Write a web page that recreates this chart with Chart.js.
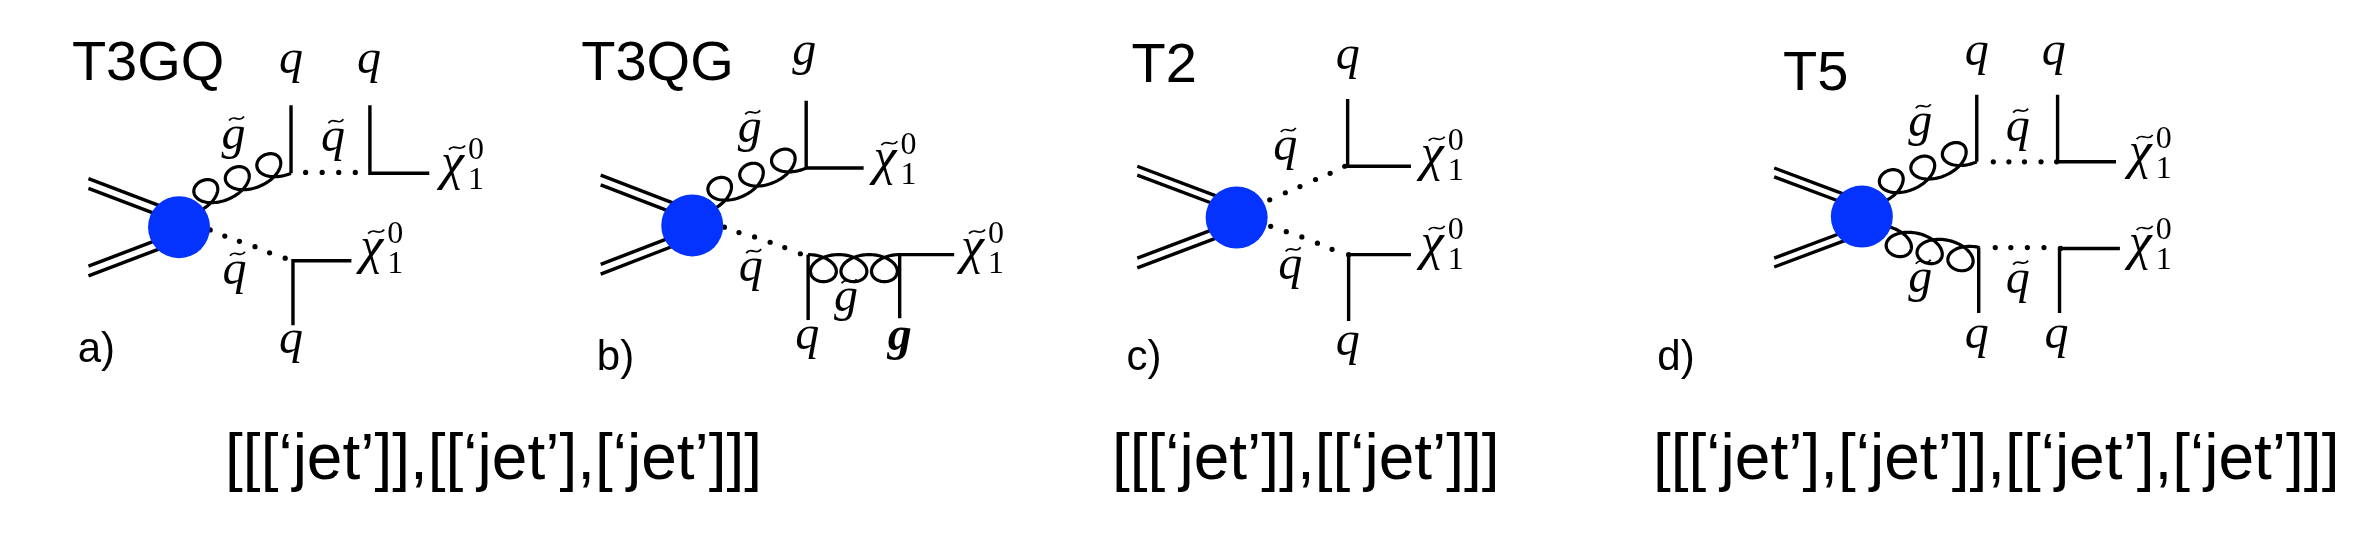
<!DOCTYPE html>
<html lang="en">
<head>
<meta charset="UTF-8">
<title>SUSY simplified-model topologies</title>
<script src="https://cdn.jsdelivr.net/npm/chart.js"></script>
<style>
  html, body { margin: 0; padding: 0; background: #fff; }
  #wrap { position: relative; width: 2371px; height: 534px; }
</style>
</head>
<body>
<div id="wrap"><canvas id="diagrams"></canvas></div>
<script>
// Diagram coordinates (x to the right, y down).
const titles = ['T3GQ', 'T3QG', 'T2', 'T5'];
const titleAt = [[42, 55], [565, 55], [1130, 58], [1799, 67]];
const panelTags = ['a)', 'b)', 'c)', 'd)'];
const tagAt = [[48, 375], [581, 383], [1125, 383], [1670, 383]];
const signatures = [
    '[[[‘jet’]],[[‘jet’],[‘jet’]]]',
    '[[[‘jet’]],[[‘jet’]]]',
    '[[[‘jet’],[‘jet’]],[[‘jet’],[‘jet’]]]'
];
const signatureAt = [[475, 507], [1309, 507], [2018, 507]];

// production blobs
const blobs = [[152, 222], [679, 220], [1238, 211], [1880, 210]];

// incoming double lines (each pair of strokes)
const beams = [
    [[59, 167], [140, 201]], [[59, 178], [140, 212]], [[59, 266], [140, 232]], [[59, 277], [140, 243]],
    [[585, 163], [665, 197]], [[585, 174], [665, 208]], [[585, 264], [665, 230]], [[585, 275], [665, 241]],
    [[1136, 153], [1225, 190]], [[1136, 163], [1225, 200]], [[1136, 257], [1225, 220]], [[1136, 268], [1225, 231]],
    [[1790, 155], [1865, 186]], [[1790, 165], [1865, 196]], [[1790, 257], [1865, 226]], [[1790, 267], [1865, 236]]
];

// quark / gluon / neutralino legs
const legs = [
    [[267, 84], [267, 161]],
    [[348, 84], [348, 161], [409, 161]],
    [[329, 260], [269, 260], [269, 333]],
    [[796, 79], [796, 155], [855, 155]],
    [[798, 327], [798, 253]],
    [[892, 325], [892, 253], [948, 253]],
    [[1352, 77], [1352, 153], [1417, 153]],
    [[1417, 253], [1353, 253], [1353, 328]],
    [[1998, 72], [1998, 148]],
    [[2081, 72], [2081, 148], [2141, 148]],
    [[2000, 319], [2000, 245]],
    [[2145, 246], [2083, 246], [2083, 319]]
];

// squark propagators, one dot per mark
const squarkDots = [
    [282, 160], [299, 160], [316, 160], [333, 160],
    [184, 225], [199, 232], [214, 238], [230, 244], [245, 251], [261, 257],
    [712, 222], [727, 228], [743, 233], [759, 239], [774, 245], [790, 252],
    [1272, 191], [1288, 183], [1303, 176], [1319, 168], [1334, 161], [1349, 153],
    [1273, 221], [1289, 227], [1305, 233], [1321, 240], [1336, 247], [1353, 253],
    [2015, 148], [2031, 148], [2047, 148], [2064, 148], [2080, 148],
    [2017, 245], [2033, 245], [2050, 245], [2067, 245], [2084, 246]
];

// gluino lines: start, end, number of curls, side of the curls
const gluons = [
    [170, 205, 267, 161, 3, 1],
    [698, 203, 796, 155, 3, 1],
    [798, 253, 892, 253, 3, -1],
    [1901, 194, 1998, 148, 3, 1],
    [1906, 221, 2001, 245, 3, -1]
];

// particle labels: kind, x, baseline
const mathLabels = [
    ['q', 267, 48], ['q', 347, 48], ['~g', 208, 133], ['~q', 310, 136],
    ['chi', 421, 167], ['chi', 338, 262], ['~q', 209, 286], ['q', 267, 364],
    ['g', 794, 39], ['~g', 738, 126], ['chi', 865, 162], ['~q', 739, 283],
    ['~g', 837, 317], ['chi', 955, 262], ['q', 797, 360], ['gb', 892, 361],
    ['q', 1352, 43], ['~q', 1288, 146], ['chi', 1427, 157], ['~q', 1293, 281],
    ['chi', 1427, 258], ['q', 1352, 366],
    ['q', 1998, 39], ['q', 2077, 39], ['~g', 1940, 119], ['~q', 2040, 124],
    ['chi', 2154, 155], ['~g', 1940, 295], ['~q', 2040, 296], ['chi', 2154, 258],
    ['q', 1998, 359], ['q', 2080, 359]
];

const INK = '#000';
const BLOB = '#0433ff';
const SANS = '"Liberation Sans", Arial, Helvetica, sans-serif';
const SERIF = '"Liberation Serif", "Times New Roman", serif';

const toPts = pts => pts.map(([x, y]) => ({ x, y }));

function strokeSet(pts) {
    return {
        type: 'scatter',
        data: toPts(pts),
        showLine: true,
        borderColor: INK,
        borderWidth: 3.4,
        borderJoinStyle: 'miter',
        borderCapStyle: 'butt',
        pointRadius: 0,
        order: 1
    };
}

function drawTilde(ctx, cx, y, w) {
    ctx.save();
    ctx.lineWidth = 1.8;
    ctx.strokeStyle = INK;
    ctx.beginPath();
    ctx.moveTo(cx - w / 2, y + 2);
    ctx.bezierCurveTo(cx - w / 6, y - 5, cx + w / 6, y + 5, cx + w / 2, y - 2);
    ctx.stroke();
    ctx.restore();
}

function drawGluon(ctx, ax, ay, bx, by, curls, side) {
    const RU = 20, RV = 13.5;
    const dx = bx - ax, dy = by - ay, len = Math.hypot(dx, dy);
    const ux = dx / len, uy = dy / len;
    const nx = uy * side, ny = -ux * side;
    const b = len / (2 * Math.PI * curls);
    const steps = curls * 90;
    ctx.beginPath();
    for (let i = 0; i <= steps; i++) {
        const th = Math.PI + 2 * Math.PI * curls * i / steps;
        const u = b * (th - Math.PI) - RU * Math.sin(th);
        const v = RV * (1 + Math.cos(th));
        const x = ax + ux * u + nx * v;
        const y = ay + uy * u + ny * v;
        if (i === 0) ctx.moveTo(x, y); else ctx.lineTo(x, y);
    }
    ctx.stroke();
}

const diagramInk = {
    id: 'diagramInk',
    beforeDatasetsDraw(chart) {
        const ctx = chart.ctx, sx = chart.scales.x, sy = chart.scales.y;
        ctx.save();
        ctx.strokeStyle = INK;
        ctx.lineWidth = 3.2;
        ctx.lineJoin = 'round';
        gluons.forEach(([ax, ay, bx, by, n, side]) => {
            drawGluon(ctx, sx.getPixelForValue(ax), sy.getPixelForValue(ay),
                sx.getPixelForValue(bx), sy.getPixelForValue(by), n, side);
        });
        ctx.restore();
    },
    afterDatasetsDraw(chart) {
        const ctx = chart.ctx, sx = chart.scales.x, sy = chart.scales.y;
        ctx.save();
        ctx.fillStyle = INK;
        ctx.textBaseline = 'alphabetic';

        ctx.textAlign = 'left';
        ctx.font = '56px ' + SANS;
        titles.forEach((t, i) => ctx.fillText(t, sx.getPixelForValue(titleAt[i][0]), sy.getPixelForValue(titleAt[i][1])));

        ctx.font = '42px ' + SANS;
        panelTags.forEach((t, i) => ctx.fillText(t, sx.getPixelForValue(tagAt[i][0]), sy.getPixelForValue(tagAt[i][1])));

        ctx.textAlign = 'center';
        ctx.font = '64px ' + SANS;
        signatures.forEach((t, i) => ctx.fillText(t, sx.getPixelForValue(signatureAt[i][0]), sy.getPixelForValue(signatureAt[i][1])));

        mathLabels.forEach(([kind, vx, vy]) => {
            const x = sx.getPixelForValue(vx), y = sy.getPixelForValue(vy);
            if (kind === 'chi') {
                ctx.textAlign = 'left';
                ctx.font = 'italic 52px ' + SERIF;
                ctx.fillText('χ', x, y);
                drawTilde(ctx, x + 16, y - 31, 16);
                ctx.font = '32px ' + SERIF;
                ctx.fillText('0', x + 27, y - 20);
                ctx.fillText('1', x + 27, y + 10);
            } else {
                ctx.textAlign = 'center';
                const letter = kind.replace('~', '').charAt(0);
                ctx.font = (kind === 'gb' ? 'italic bold ' : 'italic ') + '48px ' + SERIF;
                ctx.fillText(letter, x, y);
                if (kind.startsWith('~')) drawTilde(ctx, x + 3, y - 30, 15);
            }
        });
        ctx.restore();
    }
};

const datasets = [
    {
        type: 'scatter',
        data: toPts(blobs),
        pointRadius: 31,
        pointBackgroundColor: BLOB,
        pointBorderWidth: 0,
        order: 0
    },
    ...beams.map(strokeSet),
    ...legs.map(strokeSet),
    {
        type: 'scatter',
        data: toPts(squarkDots),
        pointRadius: 2.6,
        pointBackgroundColor: INK,
        pointBorderWidth: 0,
        order: 1
    }
];

new Chart(document.getElementById('diagrams'), {
    type: 'scatter',
    data: { datasets },
    options: {
        responsive: true,
        maintainAspectRatio: false,
        animation: false,
        events: [],
        layout: { padding: 0 },
        scales: {
            x: { type: 'linear', min: 0, max: 2371, display: false },
            y: { type: 'linear', min: 0, max: 534, reverse: true, display: false }
        },
        plugins: {
            legend: { display: false },
            tooltip: { enabled: false }
        }
    },
    plugins: [diagramInk]
});
</script>
</body>
</html>
